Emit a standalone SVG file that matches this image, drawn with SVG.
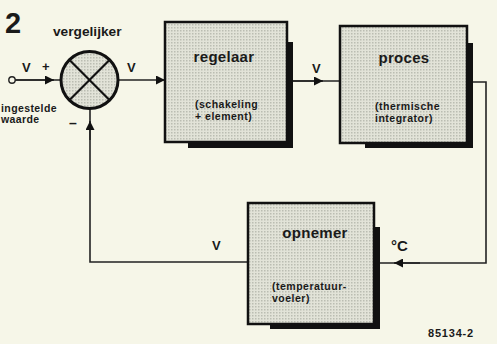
<svg xmlns="http://www.w3.org/2000/svg" width="497" height="344" viewBox="0 0 497 344">
<style>
text{font-family:"Liberation Sans",Arial,sans-serif;font-weight:bold;fill:#1a1a1a}
.box{fill:url(#dots);stroke:#111;stroke-width:2.5}
.sh{fill:#111}
.ln{fill:none;stroke:#222;stroke-width:1.6}
.t{font-size:15px;letter-spacing:0.3px}
.s{font-size:10.5px;letter-spacing:0.5px}
.v{font-size:13px}
</style>
<defs>
<pattern id="dots" width="3" height="3" patternUnits="userSpaceOnUse">
<rect width="3" height="3" fill="#e2e3d8"/>
<rect width="1.5" height="1.5" fill="#bbbdb2"/>
</pattern>
<marker id="ah" viewBox="0 0 10 10" refX="10" refY="5" markerWidth="12" markerHeight="9" markerUnits="userSpaceOnUse" orient="auto">
<path d="M0,0 L10,5 L0,10 Z" fill="#111"/>
</marker>
</defs>
<rect width="497" height="344" fill="#f6f6e8"/>
<g id="connectors">
<line class="ln" x1="15" y1="80" x2="60" y2="80"/>
<line class="ln" x1="15" y1="80" x2="54" y2="80" marker-end="url(#ah)"/>
<line class="ln" x1="119" y1="80" x2="165" y2="80" marker-end="url(#ah)"/>
<line class="ln" x1="288" y1="81" x2="340" y2="81"/>
<line class="ln" x1="288" y1="81" x2="323" y2="81" marker-end="url(#ah)"/>
<polyline class="ln" points="467,82 486,82 486,263 374,263"/>
<line class="ln" x1="420" y1="263" x2="394" y2="263" marker-end="url(#ah)"/>
<polyline class="ln" points="248,262 90,262 90,109"/>
<line class="ln" x1="90" y1="140" x2="90" y2="121" marker-end="url(#ah)"/>
<circle cx="12" cy="80" r="3.2" fill="#f6f6e8" stroke="#222" stroke-width="1.4"/>
</g>
<g id="vergelijker">
<circle cx="89.5" cy="80" r="28.5" fill="url(#dots)" stroke="#111" stroke-width="3"/>
<line x1="69.3" y1="59.8" x2="109.7" y2="100.2" stroke="#111" stroke-width="2.2"/>
<line x1="109.7" y1="59.8" x2="69.3" y2="100.2" stroke="#111" stroke-width="2.2"/>
<text x="53" y="36" style="font-size:13.7px">vergelijker</text>
</g>
<g id="regelaar">
<rect class="sh" x="188" y="42" width="105" height="106"/>
<rect class="box" x="165" y="22" width="122" height="120"/>
<text class="t" x="224" y="62" text-anchor="middle">regelaar</text>
<text class="s" x="195" y="108">(schakeling</text>
<text class="s" x="195" y="120">+ element)</text>
</g>
<g id="proces">
<rect class="sh" x="365" y="43" width="108" height="105"/>
<rect class="box" x="340" y="26" width="127" height="117"/>
<text class="t" x="404" y="63" text-anchor="middle">proces</text>
<text class="s" x="375" y="110">(thermische</text>
<text class="s" x="375" y="122">integrator)</text>
</g>
<g id="opnemer">
<rect class="sh" x="270" y="227" width="110" height="102"/>
<rect class="box" x="248" y="203" width="126" height="121"/>
<text class="t" x="315" y="238" text-anchor="middle">opnemer</text>
<text class="s" x="272" y="290">(temperatuur-</text>
<text class="s" x="272" y="302">voeler)</text>
</g>
<g id="labels">
<text x="5" y="33" style="font-size:29px">2</text>
<text class="v" x="22" y="72">V</text>
<text x="42" y="71" style="font-size:13px">+</text>
<text x="1" y="112" style="font-size:10.5px;letter-spacing:0.4px">ingestelde</text>
<text x="1" y="123" style="font-size:10.5px;letter-spacing:0.4px">waarde</text>
<text x="69" y="128" style="font-size:14px">–</text>
<text class="v" x="127" y="72">V</text>
<text class="v" x="312" y="73">V</text>
<text class="v" x="212" y="250">V</text>
<text x="391" y="251" style="font-size:15px">°C</text>
<text x="428" y="337" style="font-size:11px;letter-spacing:0.8px">85134-2</text>
</g>
</svg>
